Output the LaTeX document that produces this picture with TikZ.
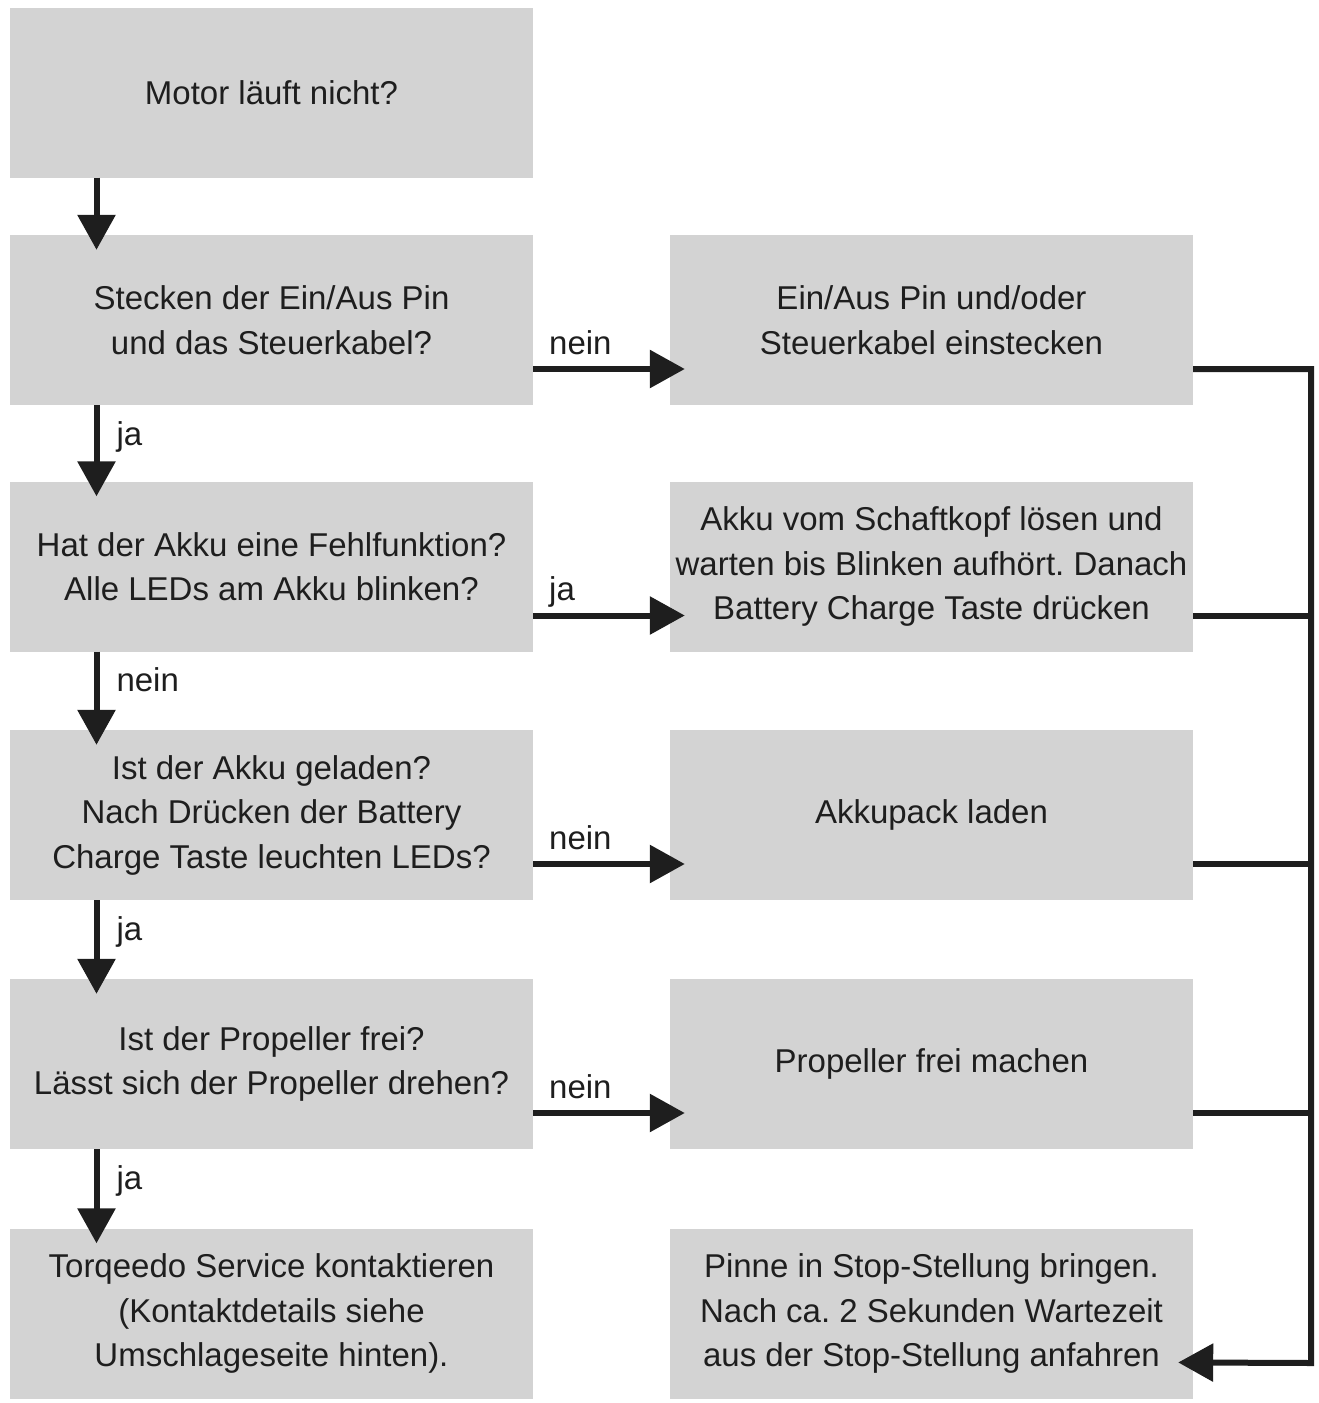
\documentclass[tikz,border=0pt]{standalone}
\usepackage{fontspec}
\setmainfont{Liberation Sans}
\usetikzlibrary{arrows.meta}
\definecolor{boxgray}{HTML}{D3D3D3}
\definecolor{inkgray}{HTML}{1E1E1E}

\begin{document}
\begin{tikzpicture}[x=1pt, y=-1pt,
    box/.style={rectangle, fill=boxgray, minimum width=523pt, minimum height=170pt,
      inner sep=0pt, align=center, text=inkgray, font=\fontsize{33}{44.5}\selectfont\frenchspacing},
    lab/.style={inner sep=0pt, text=inkgray, font=\fontsize{33}{44.5}\selectfont},
    link/.style={draw=inkgray, line width=6pt},
    arr/.style={link, -{Triangle[length=35pt, width=37pt]}, shorten >=-15pt}]
    \useasboundingbox (0,0) rectangle (1318,1403);

    % Draw the questions (left column)
    \node[box] (q0) at (271.5,92.5) {Motor läuft nicht?};
    \node[box] (q1) at (271.5,320) {Stecken der Ein/Aus Pin\\und das Steuerkabel?};
    \node[box] (q2) at (271.5,566.5) {Hat der Akku eine Fehlfunktion?\\Alle LEDs am Akku blinken?};
    \node[box] (q3) at (271.5,815) {Ist der Akku geladen?\\Nach Drücken der Battery\\Charge Taste leuchten LEDs?};
    \node[box] (q4) at (271.5,1064) {Ist der Propeller frei?\\Lässt sich der Propeller drehen?};
    \node[box] (q5) at (271.5,1313.5) {Torqeedo Service kontaktieren\\(Kontaktdetails siehe\\Umschlageseite hinten).};

    % Draw the actions (right column)
    \node[box] (a1) at (931.5,320) {Ein/Aus Pin und/oder\\Steuerkabel einstecken};
    \node[box] (a2) at (931.5,566.5) {Akku vom Schaftkopf lösen und\\warten bis Blinken aufhört. Danach\\Battery Charge Taste drücken};
    \node[box] (a3) at (931.5,815) {Akkupack laden};
    \node[box] (a4) at (931.5,1064) {Propeller frei machen};
    \node[box] (a5) at (931.5,1313.5) {Pinne in Stop-Stellung bringen.\\Nach ca. 2 Sekunden Wartezeit\\aus der Stop-Stellung anfahren};

    % Down the questions
    \draw[arr] ([xshift=-175pt]q0.south) -- ([xshift=-175pt]q1.north);
    \draw[arr] ([xshift=-175pt]q1.south) -- node[lab, pos=0, anchor=base west, xshift=17pt, yshift=-40pt] (d1) {ja} ([xshift=-175pt]q2.north);
    \draw[arr] ([xshift=-175pt]q2.south) -- node[lab, pos=0, anchor=base west, xshift=17pt, yshift=-40pt] (d2) {nein} ([xshift=-175pt]q3.north);
    \draw[arr] ([xshift=-175pt]q3.south) -- node[lab, pos=0, anchor=base west, xshift=17pt, yshift=-40pt] (d3) {ja} ([xshift=-175pt]q4.north);
    \draw[arr] ([xshift=-175pt]q4.south) -- node[lab, pos=0, anchor=base west, xshift=17pt, yshift=-40pt] (d4) {ja} ([xshift=-175pt]q5.north);

    % Across to the actions
    \draw[arr] ([yshift=-49pt]q1.east) -- node[lab, pos=0, anchor=base west, xshift=13pt, yshift=15pt] (h1) {nein} ([yshift=-49pt]a1.west);
    \draw[arr] ([yshift=-49pt]q2.east) -- node[lab, pos=0, anchor=base west, xshift=13pt, yshift=15pt] (h2) {ja} ([yshift=-49pt]a2.west);
    \draw[arr] ([yshift=-49pt]q3.east) -- node[lab, pos=0, anchor=base west, xshift=13pt, yshift=15pt] (h3) {nein} ([yshift=-49pt]a3.west);
    \draw[arr] ([yshift=-49pt]q4.east) -- node[lab, pos=0, anchor=base west, xshift=13pt, yshift=15pt] (h4) {nein} ([yshift=-49pt]a4.west);

    % Back to the last action
    \coordinate (rail) at (1311,1363);
    \draw[arr] ([yshift=-49pt]a1.east) -| (rail) -- ([yshift=-49pt]a5.east);
    \draw[link] ([yshift=-49pt]a2.east) -- ([yshift=-49pt]a2.east -| rail);
    \draw[link] ([yshift=-49pt]a3.east) -- ([yshift=-49pt]a3.east -| rail);
    \draw[link] ([yshift=-49pt]a4.east) -- ([yshift=-49pt]a4.east -| rail);
\end{tikzpicture}
\end{document}
